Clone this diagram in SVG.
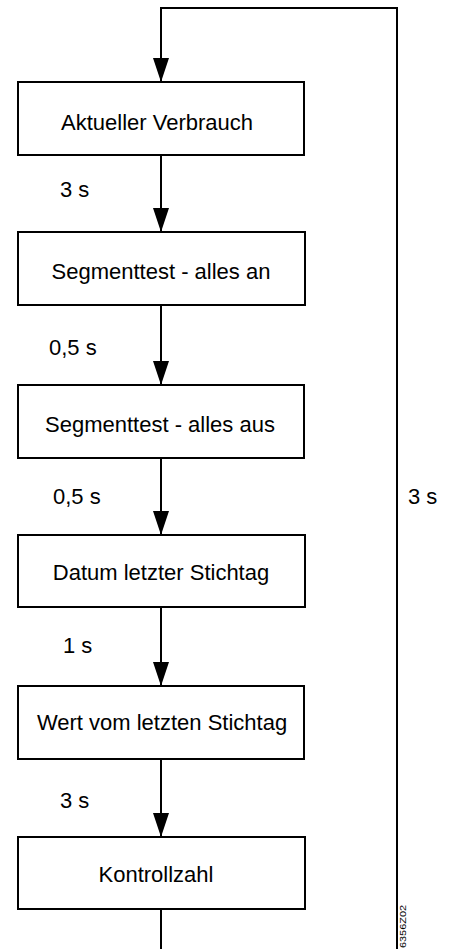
<svg xmlns="http://www.w3.org/2000/svg" width="449" height="949" viewBox="0 0 449 949">
<style>
.box{fill:#fff;stroke:#000;stroke-width:2}
.lbl{font-family:"Liberation Sans",Arial,sans-serif;font-size:22px;fill:#000}
.c{text-anchor:middle}
.ln{fill:none;stroke:#000;stroke-width:2}
.code{font-family:"Liberation Sans",Arial,sans-serif;font-size:8.5px;fill:#000}
</style>
<defs>
<marker id="ah" viewBox="0 0 24 16" refX="24" refY="8" markerWidth="24" markerHeight="16" markerUnits="userSpaceOnUse" orient="auto">
<path d="M0,0 L24,8 L0,16 z" fill="#000"/>
</marker>
</defs>
<g id="connectors">
<path class="ln" d="M397,949 L397,8 L161,8 L161,82" marker-end="url(#ah)"/>
<path class="ln" d="M161,155 L161,232" marker-end="url(#ah)"/>
<path class="ln" d="M161,305 L161,385" marker-end="url(#ah)"/>
<path class="ln" d="M161,458 L161,535" marker-end="url(#ah)"/>
<path class="ln" d="M161,607 L161,686" marker-end="url(#ah)"/>
<path class="ln" d="M161,759 L161,837" marker-end="url(#ah)"/>
<path class="ln" d="M161,909 L161,949"/>
<text class="lbl" x="60" y="197">3 s</text>
<text class="lbl" x="49" y="355">0,5 s</text>
<text class="lbl" x="53" y="504">0,5 s</text>
<text class="lbl" x="63" y="653">1 s</text>
<text class="lbl" x="60" y="808">3 s</text>
<text class="lbl" x="408" y="504">3 s</text>
</g>
<g id="n1">
<rect class="box" x="18" y="82" width="286" height="73"/>
<text class="lbl c" x="157" y="129.5">Aktueller Verbrauch</text>
</g>
<g id="n2">
<rect class="box" x="18" y="232" width="287" height="73"/>
<text class="lbl c" x="161" y="279">Segmenttest - alles an</text>
</g>
<g id="n3">
<rect class="box" x="18" y="385" width="286" height="73"/>
<text class="lbl c" x="160" y="432">Segmenttest - alles aus</text>
</g>
<g id="n4">
<rect class="box" x="18" y="535" width="287" height="72"/>
<text class="lbl c" x="161" y="580">Datum letzter Stichtag</text>
</g>
<g id="n5">
<rect class="box" x="18" y="686" width="286" height="73"/>
<text class="lbl c" x="162" y="730">Wert vom letzten Stichtag</text>
</g>
<g id="n6">
<rect class="box" x="18" y="837" width="287" height="72"/>
<text class="lbl c" x="156" y="881.5">Kontrollzahl</text>
</g>
<text class="code" transform="translate(406,948) rotate(-90)" textLength="43" lengthAdjust="spacingAndGlyphs">6356Z02</text>
</svg>
